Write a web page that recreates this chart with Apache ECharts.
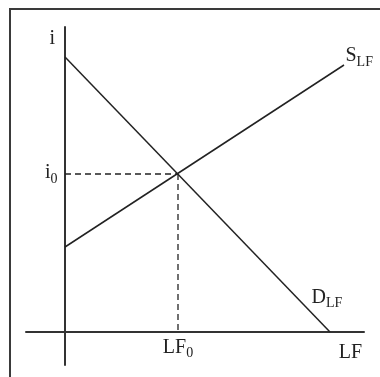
<!DOCTYPE html>
<html>
<head>
<meta charset="utf-8">
<script src="https://cdn.jsdelivr.net/npm/echarts@6/dist/echarts.min.js"></script>
<style>
  html, body { margin: 0; padding: 0; background: #fff; }
  #chart { position: absolute; left: 0; top: 0; width: 380px; height: 377px; }
  #frame { position: absolute; left: 9px; top: 8px; width: 371px; height: 369px;
           border-left: 2px solid #3a3a3a; border-top: 2px solid #3a3a3a; pointer-events: none; }
</style>
</head>
<body>
<div id="chart"></div>
<div id="frame"></div>
<script>
// Loanable funds market (values in arbitrary units)
const demandLF = [0, 26.5];
const demandRate = [27.5, 0];
const supplyLF = [0, 27.9];
const supplyRate = [8.5, 26.7];
const equilibriumLF = 11.3;
const equilibriumRate = 15.8;
const xAxisName = 'LF';
const yAxisName = 'i';
const xTickLabel = ['LF', '0'];
const yTickLabel = ['i', '0'];
const supplyName = ['S', 'LF'];
const demandName = ['D', 'LF'];

const FONT = '"Liberation Serif", "DejaVu Serif", serif';
const INK = '#222';
const rich = {
  m: { fontFamily: FONT, fontSize: 20, color: INK, lineHeight: 20, verticalAlign: 'top' },
  s: { fontFamily: FONT, fontSize: 14, color: INK, lineHeight: 14, verticalAlign: 'top', padding: [9, 0, 0, 0] }
};
const sub = (pair) => '{m|' + pair[0] + '}{s|' + pair[1] + '}';

function zip(xs, ys) { return xs.map((x, i) => [x, ys[i]]); }
function labelled(points, index, label) {
  return points.map((p, i) => i === index ? { value: p, label: Object.assign({ show: true, rich }, label) } : { value: p });
}

const chart = echarts.init(document.getElementById('chart'), null, { renderer: 'canvas' });

const supplyPts = zip(supplyLF, supplyRate);
const demandPts = zip(demandLF, demandRate);
const rateGuide = [[0, equilibriumRate], [equilibriumLF, equilibriumRate]];
const lfGuide = [[equilibriumLF, equilibriumRate], [equilibriumLF, 0]];

const lineBase = {
  type: 'line', symbol: 'circle', symbolSize: 1, showSymbol: true,
  silent: true, animation: false,
  itemStyle: { color: 'rgba(0,0,0,0)', borderWidth: 0 },
  label: { show: false }
};

chart.setOption({
  animation: false,
  grid: { left: 26, right: 16, top: 27, bottom: 12, containLabel: false, outerBoundsMode: 'none' },
  xAxis: {
    type: 'value', min: -3.9, max: 29.9,
    axisLine: { onZero: true, lineStyle: { color: '#333', width: 2 } },
    axisTick: { show: false },
    splitLine: { show: false },
    axisLabel: { show: false },
    name: xAxisName, nameLocation: 'end', nameGap: 0,
    nameTextStyle: { fontFamily: FONT, fontSize: 20, color: INK, align: 'right',
      verticalAlign: 'top', padding: [11, 2, 0, 0] }
  },
  yAxis: {
    type: 'value', min: -3.3, max: 30.5,
    axisLine: { onZero: true, lineStyle: { color: '#333', width: 2 } },
    axisTick: { show: false },
    splitLine: { show: false },
    axisLabel: { show: false },
    name: yAxisName, nameLocation: 'end', nameGap: -12,
    nameTextStyle: { fontFamily: FONT, fontSize: 20, color: INK, align: 'right',
      verticalAlign: 'middle', padding: [0, 10, 0, 0] }
  },
  series: [
    Object.assign({}, lineBase, {
      name: 'D',
      data: labelled(demandPts, demandPts.length - 1,
        { position: 'top', distance: 0, offset: [-3, -24], formatter: () => sub(demandName) }),
      lineStyle: { color: INK, width: 1.5 }
    }),
    Object.assign({}, lineBase, {
      name: 'S',
      data: labelled(supplyPts, supplyPts.length - 1,
        { position: 'right', distance: 0, offset: [1, -9], formatter: () => sub(supplyName) }),
      lineStyle: { color: INK, width: 1.5 }
    }),
    Object.assign({}, lineBase, {
      name: 'i0',
      data: labelled(rateGuide, 0,
        { position: 'left', distance: 7, offset: [0, -1], formatter: () => sub(yTickLabel) }),
      lineStyle: { color: INK, width: 1.3, type: [6, 4] }
    }),
    Object.assign({}, lineBase, {
      name: 'LF0',
      data: labelled(lfGuide, 1,
        { position: 'bottom', distance: 5, offset: [0, 0], formatter: () => sub(xTickLabel) }),
      lineStyle: { color: INK, width: 1.3, type: [6, 4] }
    })
  ]
});
</script>
</body>
</html>
